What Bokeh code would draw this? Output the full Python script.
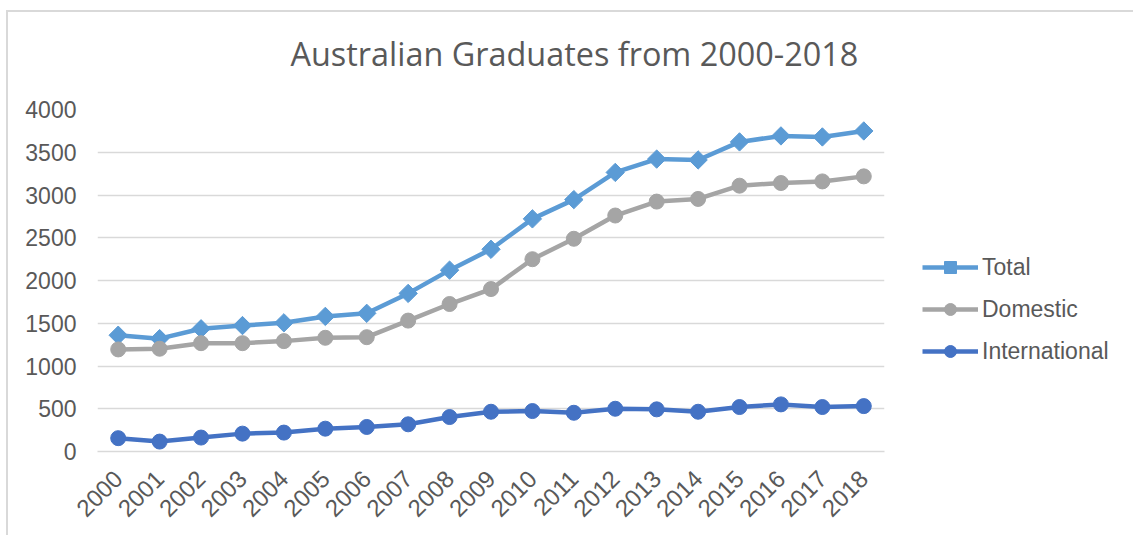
from bokeh.plotting import figure
from bokeh.models import FixedTicker, Legend, LegendItem, Title
from bokeh.embed import file_html
from bokeh.resources import INLINE
import math

years = [str(y) for y in range(2000, 2019)]
total = [1360, 1320, 1435, 1473, 1505, 1580, 1616, 1849, 2121, 2365, 2721, 2946, 3264, 3420, 3410, 3621, 3691, 3679, 3749]
domestic = [1194, 1202, 1267, 1267, 1291, 1330, 1337, 1531, 1725, 1900, 2249, 2488, 2760, 2923, 2954, 3109, 3140, 3159, 3218]
international = [156, 116, 163, 209, 221, 267, 287, 318, 403, 465, 473, 453, 500, 493, 465, 520, 551, 520, 531]
y_ticks = [0, 500, 1000, 1500, 2000, 2500, 3000, 3500, 4000]

TXT = "#595959"
FONT = "Liberation Sans"

p = figure(x_range=years, y_range=(0, 4000), width=1125, height=523,
           frame_width=787, frame_height=342,
           min_border_left=89, min_border_top=97, min_border_right=249, min_border_bottom=84,
           output_backend="svg", toolbar_location=None, tools="")
p.x_range.range_padding = 0
# spacer between frame and title (closest to frame)
p.add_layout(Title(text=" ", text_font_size="1px", standoff=15, text_color="white"), "above")
p.add_layout(Title(text="Australian Graduates from 2000-2018", align="left", offset=193,
                   text_font="Open Sans", text_font_size="32.4px", text_font_style="normal",
                   text_color=TXT, standoff=33), "above")

p.styles = {"margin-left": "6px", "margin-top": "10px",
            "border-left": "2px solid #D9D9D9", "border-top": "2px solid #D9D9D9"}
p.outline_line_color = None
p.background_fill_color = "white"
p.border_fill_color = "white"

p.xgrid.grid_line_color = None
p.ygrid.grid_line_color = "#D9D9D9"
p.ygrid.grid_line_width = 1.3
p.yaxis.ticker = FixedTicker(ticks=y_ticks)

for ax in (p.xaxis[0], p.yaxis[0]):
    ax.major_tick_line_color = None
    ax.minor_tick_line_color = None
    ax.major_label_text_font = FONT
    ax.major_label_text_color = TXT
p.yaxis.major_label_text_font_size = "23px"
p.xaxis.major_label_text_font_size = "24px"
p.yaxis.axis_line_color = None
p.xaxis.axis_line_color = "#D9D9D9"
p.xaxis.axis_line_width = 1.3
p.yaxis.major_label_standoff = 15
p.xaxis.major_label_standoff = 17
p.xaxis.major_label_orientation = math.pi / 4

lw = 4.5
r1l = p.line(years, total, line_color="#5B9BD5", line_width=lw)
r1m = p.scatter(years, total, marker="square", angle=math.pi / 4, size=13,
                fill_color="#5B9BD5", line_color="#5B9BD5")
r2l = p.line(years, domestic, line_color="#A5A5A5", line_width=lw)
r2m = p.scatter(years, domestic, marker="circle", size=15, fill_color="#A5A5A5", line_color="#A5A5A5")
r3l = p.line(years, international, line_color="#4472C4", line_width=lw)
r3m = p.scatter(years, international, marker="circle", size=15, fill_color="#4472C4", line_color="#4472C4")

legend = Legend(items=[
    LegendItem(label="Total", renderers=[r1l, r1m]),
    LegendItem(label="Domestic", renderers=[r2l, r2m]),
    LegendItem(label="International", renderers=[r3l, r3m]),
], location=(38, 85))
legend.padding = 0
legend.margin = 0
legend.border_line_color = None
legend.background_fill_alpha = 0
legend.glyph_width = 56
legend.glyph_height = 30
legend.label_height = 30
legend.spacing = 12
legend.label_standoff = 4
legend.label_text_font = FONT
legend.label_text_font_size = "23px"
legend.label_text_color = TXT
p.add_layout(legend, "right")

open("out.html", "w").write(file_html(p, INLINE))
